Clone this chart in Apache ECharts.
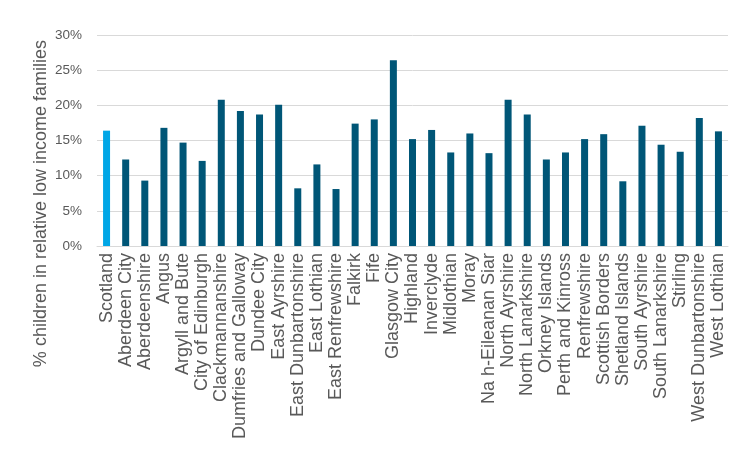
<!DOCTYPE html>
<html>
<head>
<meta charset="utf-8">
<script src="https://cdn.jsdelivr.net/npm/echarts@6/dist/echarts.min.js"></script>
<style>
html,body{margin:0;padding:0;background:#fff;}
#chart{width:754px;height:450px;}
</style>
</head>
<body>
<div id="chart"></div>
<script>
var categories = ["Scotland","Aberdeen City","Aberdeenshire","Angus","Argyll and Bute","City of Edinburgh","Clackmannanshire","Dumfries and Galloway","Dundee City","East Ayrshire","East Dunbartonshire","East Lothian","East Renfrewshire","Falkirk","Fife","Glasgow City","Highland","Inverclyde","Midlothian","Moray","Na h-Eileanan Siar","North Ayrshire","North Lanarkshire","Orkney Islands","Perth and Kinross","Renfrewshire","Scottish Borders","Shetland Islands","South Ayrshire","South Lanarkshire","Stirling","West Dunbartonshire","West Lothian"];
var values = [16.4,12.3,9.3,16.8,14.7,12.1,20.8,19.2,18.7,20.1,8.2,11.6,8.1,17.4,18.0,26.4,15.2,16.5,13.3,16.0,13.2,20.8,18.7,12.3,13.3,15.2,15.9,9.2,17.1,14.4,13.4,18.2,16.3];
var yTicks = [0,5,10,15,20,25,30];
var yTitle = "% children in relative low income families";

var highlightCat = "Scotland";
var chart = echarts.init(document.getElementById('chart'), null, {renderer:'canvas'});
var font = "'Liberation Sans', Arial, sans-serif";
chart.setOption({
  animation:false,
  grid:{left:97,right:26,top:35,bottom:204,containLabel:false},
  xAxis:{
    type:'category',
    data:categories,
    axisLine:{show:true,lineStyle:{color:'#d9d9d9',width:1}},
    axisTick:{show:false},
    axisLabel:{rotate:90,interval:0,margin:7,color:'#595959',fontSize:18,fontFamily:font}
  },
  yAxis:{
    type:'value',
    min:yTicks[0],max:yTicks[yTicks.length-1],interval:5,
    axisLine:{show:false},axisTick:{show:false},
    splitLine:{lineStyle:{color:'#d9d9d9',width:1}},
    axisLabel:{formatter:'{value}%',margin:15,color:'#595959',fontSize:13.5,fontFamily:font}
  },
  graphic:[{
    type:'text',
    left:32, top:40,
    rotation:Math.PI/2,
    style:{text:yTitle,fill:'#595959',font:"18px 'Liberation Sans', Arial, sans-serif"}
  }],
  series:[{
    type:'bar',
    barWidth:7,
    data:values.map(function(v,i){
      return {value:v,itemStyle:{color: categories[i]===highlightCat ? '#00A6E6' : '#005677'}};
    })
  }]
});
</script>
</body>
</html>
